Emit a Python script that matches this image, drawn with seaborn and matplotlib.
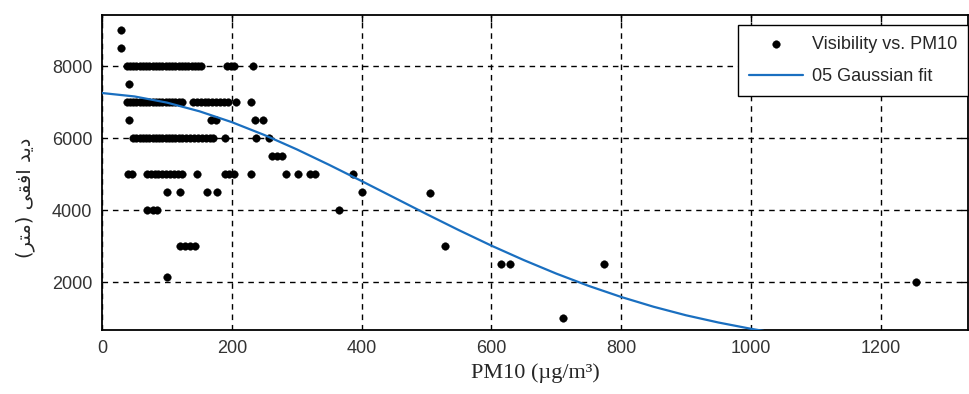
import matplotlib
matplotlib.use("Agg")
import matplotlib.pyplot as plt
import seaborn as sns
import pandas as pd

# ---- data ----
x_8000 = [38, 43, 48, 53, 58, 63, 68, 73, 78, 83, 88, 93, 98, 103, 108, 113, 118,
          123, 128, 133, 138, 143, 148, 152, 192, 198, 203, 232]
x_7000 = [38, 43, 48, 53, 58, 63, 68, 73, 78, 83, 88, 93, 98, 103, 108, 113, 118, 124,
          140, 146, 152, 158, 164, 170, 176, 182, 188, 194, 207, 229]
x_6500 = [42, 168, 175, 235, 248]
x_6000 = [48, 53, 58, 63, 68, 73, 78, 83, 88, 93, 98, 103, 108, 113, 118, 124, 130,
          136, 142, 148, 154, 160, 166, 171, 189, 238, 258]
x_5500 = [262, 270, 278]
x_5000 = [40, 46, 69, 75, 81, 87, 93, 99, 105, 111, 117, 123, 147, 189, 196, 203,
          230, 284, 302, 321, 328, 386]
x_4500 = [100, 120, 161, 177, 401]
x_4000 = [70, 78, 85, 365]
x_3000 = [120, 128, 136, 143]
x_other = [29, 29, 42, 100, 505, 528, 615, 628, 774, 711, 1254]
y_other = [9000, 8500, 7500, 2150, 4470, 3000, 2500, 2500, 2500, 1000, 2000]

pm10 = (x_8000 + x_7000 + x_6500 + x_6000 + x_5500 + x_5000 + x_4500 + x_4000
        + x_3000 + x_other)
visibility = ([8000] * len(x_8000) + [7000] * len(x_7000) + [6500] * len(x_6500)
              + [6000] * len(x_6000) + [5500] * len(x_5500) + [5000] * len(x_5000)
              + [4500] * len(x_4500) + [4000] * len(x_4000) + [3000] * len(x_3000)
              + y_other)

fit_x = [0, 50, 100, 150, 200, 250, 300, 350, 400, 450, 500, 550, 600, 650, 700,
         750, 800, 850, 900, 950, 1000, 1020]
fit_y = [7250, 7155, 6984, 6743, 6441, 6085, 5686, 5255, 4805, 4347, 3888, 3440,
         3011, 2609, 2234, 1892, 1585, 1313, 1076, 875, 701, 640]

x_ticks = [0, 200, 400, 600, 800, 1000, 1200]
y_ticks = [2000, 4000, 6000, 8000]

scatter_label = "Visibility vs. PM10"
fit_label = "05 Gaussian fit"
x_label = "PM10 (\u00b5g/m\u00b3)"
# Persian "دید افقی (متر)" in presentation forms, visual order
y_label = ("(" + "\uFEAE\uFE98\uFEE3" + ")" + " " + "\uFBFD\uFED8\uFED3\uFE8D"
           + " " + "\uFEAA\uFBFE\uFEA9")

# ---- plot ----
sns.set_style("white")
plt.rcParams["font.family"] = ["Liberation Sans", "DejaVu Sans"]

fig = plt.figure(figsize=(9.69, 3.94), dpi=100)
ax = fig.add_axes([0.1053, 0.1624, 0.894, 0.7995])

pts = pd.DataFrame({"pm10": pm10, "vis": visibility})
fit = pd.DataFrame({"x": fit_x, "y": fit_y})

sns.scatterplot(data=pts, x="pm10", y="vis", ax=ax, color="black", s=30,
                edgecolor="black", linewidth=0.3, label=scatter_label, zorder=3)
sns.lineplot(data=fit, x="x", y="y", ax=ax, color="#1a6fc0", linewidth=1.6,
             label=fit_label, zorder=4)

ax.set_xlim(0, 1335)
ax.set_ylim(667, 9417)
ax.set_xticks(x_ticks)
ax.set_yticks(y_ticks)
ax.set_xticklabels([str(v) for v in x_ticks])
ax.set_yticklabels([str(v) for v in y_ticks])

ax.grid(True, color="black", linestyle=(0, (4, 3.5)), linewidth=1.0)
ax.set_axisbelow(True)
for sp in ax.spines.values():
    sp.set_color("black")
    sp.set_linewidth(1.3)
ax.tick_params(direction="in", length=5, width=1, top=True, right=True,
               labelsize=13, colors="black", pad=7)
for lab in ax.get_xticklabels() + ax.get_yticklabels():
    lab.set_color("#333333")

ax.set_xlabel(x_label, family="Liberation Serif", fontsize=16, labelpad=5)
ax.set_ylabel(y_label, family=["DejaVu Sans"], fontsize=14)
ax.yaxis.set_label_coords(-0.077, 0.42)

leg = ax.legend(loc="upper right", bbox_to_anchor=(1.0, 0.968), borderaxespad=0,
                frameon=True, fancybox=False, edgecolor="black", framealpha=1,
                fontsize=13, handlelength=3.0, handletextpad=0.5, borderpad=0.6,
                labelspacing=0.85, markerscale=1.0)
leg.get_frame().set_linewidth(1.0)

fig.savefig("out.png", dpi=100)
